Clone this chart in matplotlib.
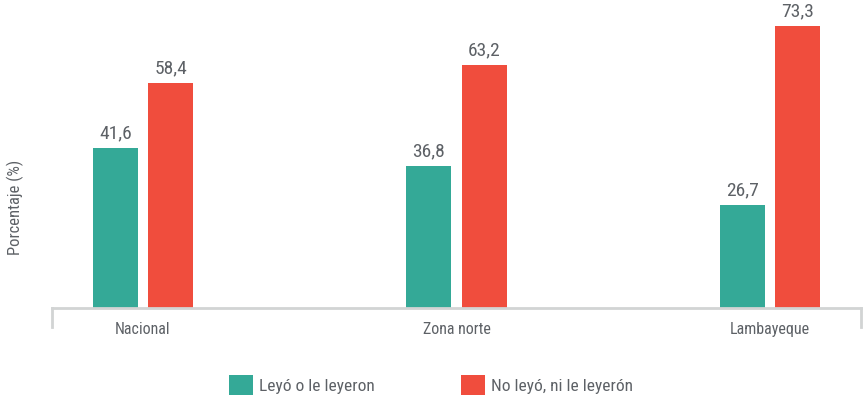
import matplotlib
matplotlib.use("Agg")
import matplotlib.pyplot as plt
from matplotlib import font_manager
from matplotlib.patches import Patch
from matplotlib.lines import Line2D
import numpy as np

categories = ["Nacional", "Zona norte", "Lambayeque"]
series_names = ["Leyó o le leyeron", "No leyó, ni le leyerón"]
leyo = [41.6, 36.8, 26.7]
no_leyo = [58.4, 63.2, 73.3]
value_labels_leyo = ["41,6", "36,8", "26,7"]
value_labels_no = ["58,4", "63,2", "73,3"]

TEAL = "#34a997"
RED = "#f04d3d"
TXT = "#5d6166"
AXC = "#d2d4d4"

# pick a condensed font if one is available
names = {f.name for f in font_manager.fontManager.ttflist}
stretches = {(f.name, f.stretch) for f in font_manager.fontManager.ttflist}
family = None
stretch = 'normal'
for cand in ['Roboto Condensed', 'Liberation Sans Narrow', 'Open Sans Condensed',
             'DejaVu Sans Condensed', 'Noto Sans Condensed']:
    if cand in names:
        family = cand
        break
if family is None:
    for fam in ['Roboto', 'Noto Sans', 'Open Sans', 'DejaVu Sans', 'Liberation Sans']:
        cond = [s for (n, s) in stretches if n == fam and s not in ('normal', 500, 'medium')]
        if cond:
            family = fam
            stretch = 'condensed'
            break
if family is None:
    family = 'DejaVu Sans'
plt.rcParams['font.family'] = [family, 'DejaVu Sans']
plt.rcParams['font.stretch'] = stretch

fig = plt.figure(figsize=(8.67, 4.0), dpi=100)
ax = fig.add_axes([52/867, 1 - 308/400, (861-52)/867, 308/400])

x = np.arange(len(categories))
w = 0.144
off = 0.088
b1 = ax.bar(x - off, leyo, width=w, color=TEAL)
b2 = ax.bar(x + off, no_leyo, width=w, color=RED)

for bars, labs in ((b1, value_labels_leyo), (b2, value_labels_no)):
    for rect, lab in zip(bars, labs):
        ax.annotate(lab, (rect.get_x() + rect.get_width()/2, rect.get_height()),
                    xytext=(0, 4), textcoords="offset points", ha="center", va="bottom",
                    fontsize=14, color=TXT, annotation_clip=False)

ax.set_xlim(-0.29, 2.29)
ax.set_ylim(0, 80)
ax.set_xticks(x)
ax.set_xticklabels(categories, fontsize=11.5, color=TXT)
ax.tick_params(axis='x', length=0, pad=10)
ax.set_yticks([])
for s in ['top', 'right', 'left']:
    ax.spines[s].set_visible(False)
ax.spines['bottom'].set_color(AXC)
ax.spines['bottom'].set_linewidth(2)

for xe in (0, 1):
    ax.add_line(Line2D([xe, xe], [0, -0.062], transform=ax.transAxes, color=AXC,
                       lw=2, clip_on=False))

fig.text(15/867, 1 - 207/400, "Porcentaje (%)", rotation=90, ha="center", va="center",
         fontsize=12, color=TXT)

handles = [Patch(facecolor=TEAL, edgecolor='none'), Patch(facecolor=RED, edgecolor='none')]
leg = fig.legend(handles, series_names, loc="center", bbox_to_anchor=(431/867, 1 - 385/400),
                 ncol=2, frameon=False, fontsize=12.5, handlelength=1.38, handleheight=1.38,
                 handletextpad=0.35, columnspacing=5.0)
for t in leg.get_texts():
    t.set_color(TXT)

fig.savefig("out.png", dpi=100)
